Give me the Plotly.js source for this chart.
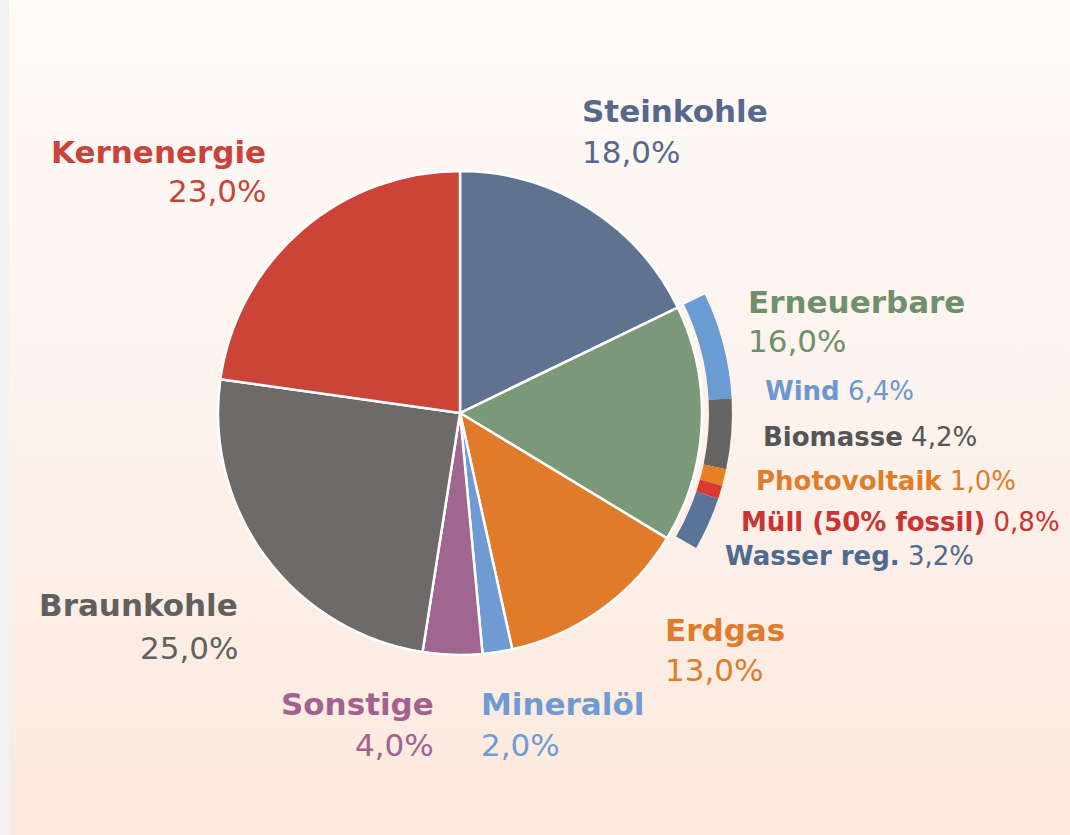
<!DOCTYPE html>
<html>
<head>
<meta charset="utf-8">
<script src="https://cdn.plot.ly/plotly-3.0.1.min.js"></script>
<style>
  html, body { margin: 0; padding: 0; width: 1070px; height: 835px; overflow: hidden; background: #f2f2f2; }
  #card { position: absolute; left: 9px; top: 0; width: 1061px; height: 835px;
          background: linear-gradient(to bottom, #fefbf9 0%, #fdf3ee 45%, #fce9dd 100%); }
  #plot { position: absolute; left: 0; top: 0; width: 1070px; height: 835px; }
</style>
</head>
<body>
<div id="card"></div>
<div id="plot"></div>
<script>
// Main energy mix (clockwise from 12 o'clock)
const categories = ['Steinkohle', 'Erneuerbare', 'Erdgas', 'Mineralöl', 'Sonstige', 'Braunkohle', 'Kernenergie'];
const shares = [18.0, 16.0, 13.0, 2.0, 4.0, 25.0, 23.0];
const sliceColors = ['#5f7391', '#7b9878', '#e07b2b', '#6f9bd2', '#a1668f', '#6d6a69', '#cc4437'];
const labelColors = ['#57698b', '#6f8f6d', '#e07b2b', '#6f9bd2', '#a1628f', '#616060', '#c9433a'];

// Breakdown of renewables (outer ring)
const subCategories = ['Wind', 'Biomasse', 'Photovoltaik', 'Müll (50% fossil)', 'Wasser reg.'];
const subShares = [6.4, 4.2, 1.0, 0.8, 3.2];
const subColors = ['#6a9bd3', '#666463', '#e88124', '#d83a31', '#5a7399'];
const subLabelColors = ['#6a98cf', '#555555', '#e07d2a', '#cc3333', '#4f6a90'];

const fmt = v => v.toFixed(1).replace('.', ',') + '%';

const W = 1070, H = 835;
const cx = 460, cy = 413, r = 242;
const ringIn = 249, ringOut = 272;

function dom(rad) {
  return {
    x: [(cx - rad) / W, (cx + rad) / W],
    y: [(H - cy - rad) / H, (H - cy + rad) / H]
  };
}

const total = shares.reduce((a, b) => a + b, 0);
const subTotal = subShares.reduce((a, b) => a + b, 0);
const lead = shares[0];
const rest = total - lead - subTotal;

const mainPie = {
  type: 'pie',
  values: shares,
  labels: categories,
  sort: false,
  direction: 'clockwise',
  rotation: 0,
  textinfo: 'none',
  hoverinfo: 'skip',
  marker: { colors: sliceColors, line: { color: '#ffffff', width: 2.5 } },
  domain: dom(r),
  showlegend: false
};

const ringValues = [lead].concat(subShares, [rest]);
const ringLabels = ['_a'].concat(subCategories, ['_b']);
const ringColors = ['rgba(0,0,0,0)'].concat(subColors, ['rgba(0,0,0,0)']);
const ringLineW = [0].concat(subShares.map(() => 0), [0]);

const ringPie = {
  type: 'pie',
  values: ringValues,
  labels: ringLabels,
  sort: false,
  direction: 'clockwise',
  rotation: 0,
  hole: ringIn / ringOut,
  textinfo: 'none',
  hoverinfo: 'skip',
  marker: { colors: ringColors, line: { color: 'rgba(0,0,0,0)', width: ringLineW } },
  domain: dom(ringOut),
  showlegend: false
};

const FONT = 'DejaVu Sans, Noto Sans, sans-serif';
const BIG = 31, SMALL = 26;

function ann(text, px, py, anchor, color, size) {
  return {
    text: text, xref: 'paper', yref: 'paper',
    x: px / W, y: 1 - py / H,
    xanchor: anchor, yanchor: 'middle',
    showarrow: false,
    font: { family: FONT, size: size, color: color }
  };
}

// Label anchor placement (pixels): [x, yName, yValue, anchor]
const labelPos = [
  [580, 111, 152, 'left'],   // Steinkohle
  [746, 302, 341, 'left'],   // Erneuerbare
  [663, 630, 670, 'left'],   // Erdgas
  [479, 704, 745, 'left'],   // Mineralöl
  [436, 704, 745, 'right'],  // Sonstige
  [240, 605, 648, 'right'],  // Braunkohle
  [268, 152, 191, 'right']   // Kernenergie
];
const subPos = [
  [763, 391], [761, 437], [754, 481], [739, 522], [723, 556]
];

const annotations = [];
categories.forEach((c, i) => {
  const p = labelPos[i];
  annotations.push(ann('<b>' + c + '</b>', p[0], p[1], p[3], labelColors[i], BIG));
  annotations.push(ann(fmt(shares[i]), p[0], p[2], p[3], labelColors[i], BIG));
});
subCategories.forEach((c, i) => {
  const p = subPos[i];
  annotations.push(ann('<b>' + c + '</b> ' + fmt(subShares[i]), p[0], p[1], 'left', subLabelColors[i], SMALL));
});

const layout = {
  width: W, height: H,
  margin: { l: 0, r: 0, t: 0, b: 0 },
  paper_bgcolor: 'rgba(0,0,0,0)',
  plot_bgcolor: 'rgba(0,0,0,0)',
  showlegend: false,
  annotations: annotations
};

Plotly.newPlot('plot', [mainPie, ringPie], layout, { staticPlot: true, displayModeBar: false });
</script>
</body>
</html>
